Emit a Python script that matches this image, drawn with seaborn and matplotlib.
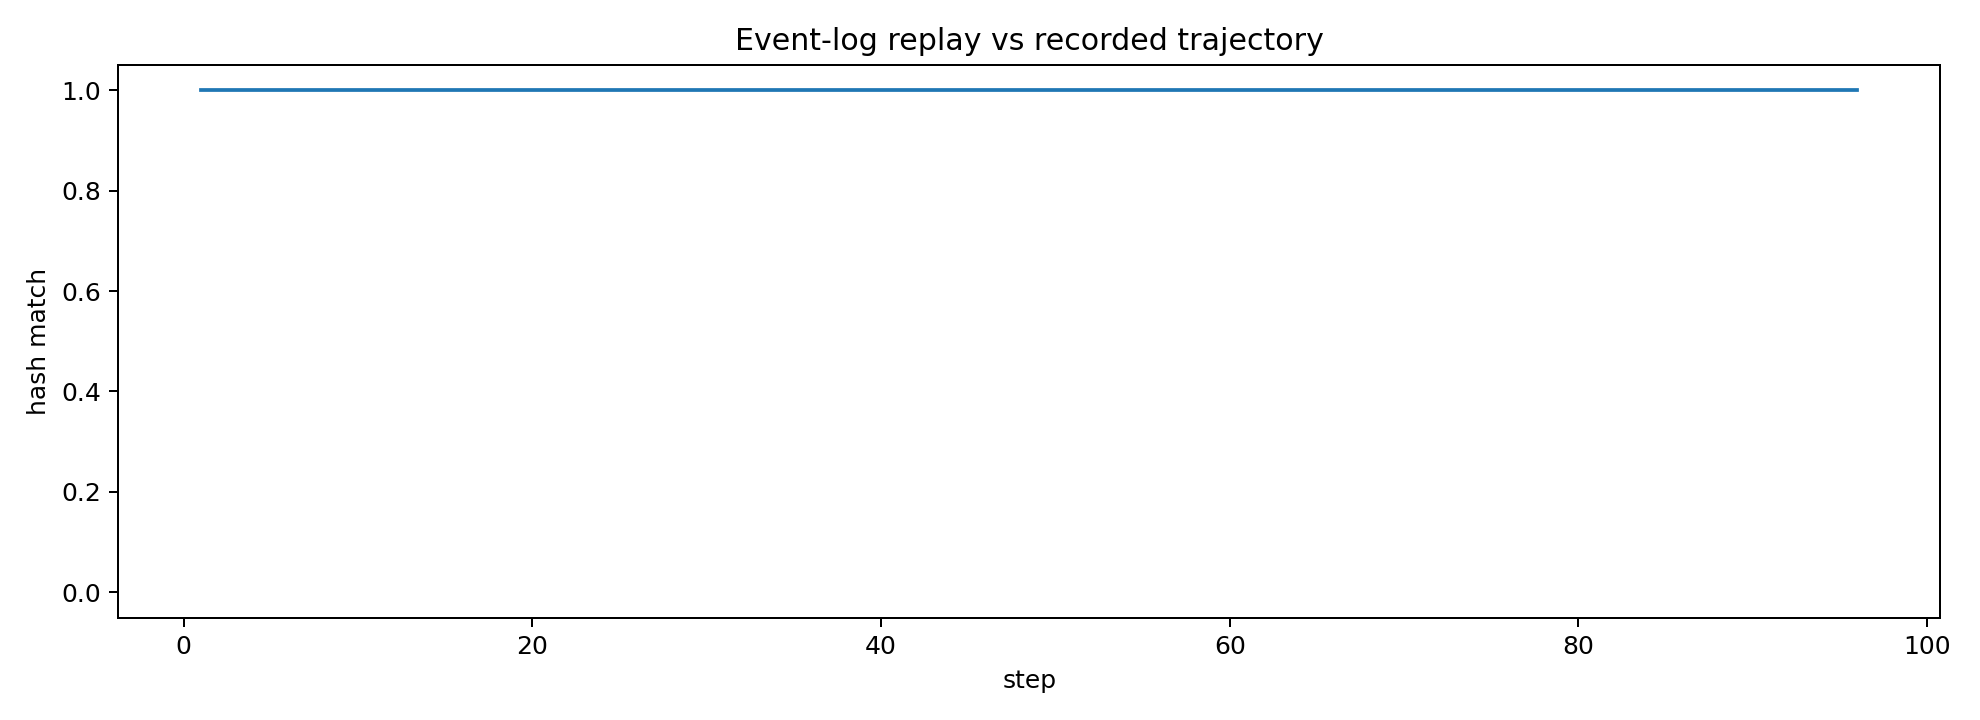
import matplotlib
matplotlib.use("Agg")
import matplotlib.pyplot as plt
import seaborn as sns

# replay check: every step's hash matched the recorded trajectory
steps = list(range(1, 97))
hash_match = [1.0] * 96

fig, ax = plt.subplots(figsize=(11, 4), dpi=180)
sns.lineplot(x=steps, y=hash_match, ax=ax, color="#1f77b4", linewidth=1.5)
ax.set_ylim(-0.05, 1.05)
ax.set_title("Event-log replay vs recorded trajectory")
ax.set_xlabel("step")
ax.set_ylabel("hash match")

plt.tight_layout()
plt.savefig("out.png", dpi=180)
